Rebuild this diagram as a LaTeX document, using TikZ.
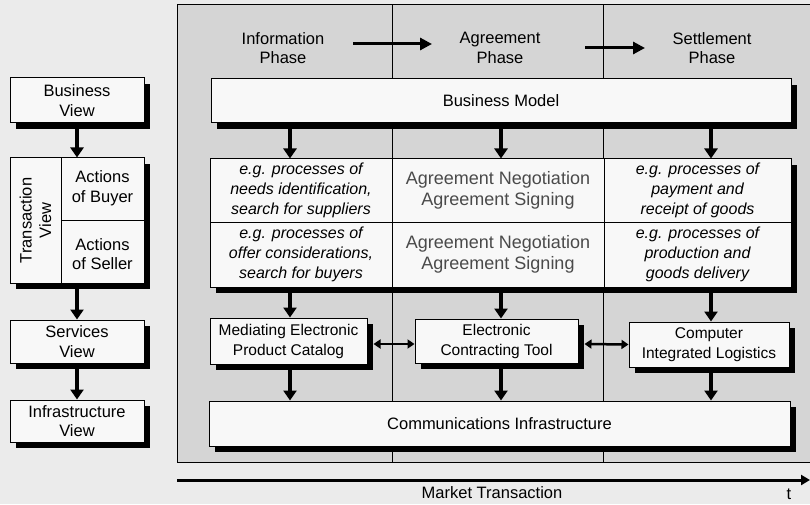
\documentclass[tikz,border=0pt]{standalone}
\usepackage{fontspec}
\setmainfont{Liberation Sans}
\usetikzlibrary{arrows.meta,calc}
\definecolor{pagebg}{HTML}{EBEBEB}
\definecolor{panelbg}{HTML}{D5D5D5}
\definecolor{boxbg}{HTML}{F8F8F8}
\definecolor{softtext}{HTML}{4A4A4A}
\tikzset{
  txt/.style={font=\fontsize{16.5}{19.5}\selectfont, align=center, inner sep=0pt},
  shadowbox/.style={draw=black, line width=1pt, fill=boxbg, inner sep=0pt, align=center,
    font=\fontsize{16.5}{19.5}\selectfont},
  boxshadow/.style={fill=black},
  toolfont/.style={font=\fontsize{15.5}{20}\selectfont},
  cell/.style={draw=black, line width=1pt, fill=boxbg, inner sep=0pt, align=center},
  egtext/.style={font=\fontsize{16}{20}\selectfont\itshape},
  negtext/.style={font=\fontsize{18}{20.5}\selectfont, text=softtext},
  divider/.style={line width=1pt},
  flow/.style={line width=4.5pt, -{Triangle[width=13pt,length=10pt]}},
  hflow/.style={line width=3pt, -{Triangle[width=12pt,length=12pt]}},
  link/.style={line width=2.5pt, {Triangle[width=9pt,length=7pt]}-{Triangle[width=9pt,length=7pt]}},
  timeline/.style={line width=3pt, -{Triangle[width=10pt,length=9pt]}},
}
\begin{document}
\begin{tikzpicture}
\useasboundingbox (0,0) rectangle (810pt,504pt);
\clip (0,0) rectangle (810pt,504pt);
\fill[pagebg] (0,0) rectangle (810pt,504pt);
\begin{scope}[x=1pt,y=-1pt,shift={(0pt,504pt)}]

% ---- grey panel of the three phases (runs on past the right edge) ----
\node[draw=black, line width=1pt, fill=panelbg, inner sep=0pt,
      minimum width=640pt, minimum height=457pt] (panel) at (497,233.5) {};
\coordinate (d1) at (392,0);
\coordinate (d2) at (603,0);
\draw[divider] (panel.north -| d1) -- (panel.south -| d1);
\draw[divider] (panel.north -| d2) -- (panel.south -| d2);

% ---- drop shadows, laid down before the boxes (centre x/y, width, height) ----
\foreach \cx/\cy/\w/\h in {501/101/580/44, 500.5/223/581/128, 288.5/341/157/46,
    496.5/341/163/44, 709/344.5/160/45, 499.5/423.5/581/45, 77/100.5/134/45,
    77/220.5/134/125, 77/341.5/134/43, 77/421/134/42}{
  \fill[boxshadow] (\cx-\w/2+6, \cy-\h/2+6) rectangle (\cx+\w/2+6, \cy+\h/2+6);
}

% column positions of the vertical flows
\coordinate (xL) at (290,0);
\coordinate (xM) at (501,0);
\coordinate (xR) at (711,0);

% ---- phase headings ----
\node[txt] (info)   at (283,48) {Information\\Phase};
\node[txt] (agree)  at (500,48) {Agreement\\Phase};
\node[txt] (settle) at (712,48) {Settlement\\Phase};
\draw[hflow] ($(info)+(70,-4)$) -- ($(agree)+(-68,-4)$);
\draw[hflow] ($(agree)+(85,0)$) -- ($(settle)+(-67,0)$);

% ---- business model ----
\node[shadowbox, minimum width=580pt, minimum height=44pt] (bm) at (501,101) {Business Model};

% ---- process grid ----
\node[shadowbox, minimum width=581pt, minimum height=128pt] (grid) at (500.5,223) {};
\node[cell, egtext, minimum width=182pt, minimum height=63pt] (c11) at (301,190.5)
  {e.g. processes of\\needs identification,\\search for suppliers};
\node[cell, negtext, minimum width=212pt, minimum height=63pt] (c12) at (498,190.5)
  {Agreement Negotiation\\Agreement Signing};
\node[cell, egtext, minimum width=187pt, minimum height=63pt] (c13) at (697.5,190.5)
  {e.g. processes of\\payment and\\receipt of goods};
\node[cell, egtext, minimum width=182pt, minimum height=65pt] (c21) at (301,254.5)
  {e.g. processes of\\offer considerations,\\search for buyers};
\node[cell, negtext, minimum width=212pt, minimum height=65pt] (c22) at (498,254.5)
  {Agreement Negotiation\\Agreement Signing};
\node[cell, egtext, minimum width=187pt, minimum height=65pt] (c23) at (697.5,254.5)
  {e.g. processes of\\production and\\goods delivery};

% ---- electronic services ----
\node[shadowbox, toolfont, minimum width=157pt, minimum height=46pt] (cat) at (288.5,341)
  {Mediating Electronic\\Product Catalog};
\node[shadowbox, toolfont, minimum width=163pt, minimum height=44pt] (ctr) at (496.5,341)
  {Electronic\\Contracting Tool};
\node[shadowbox, toolfont, minimum width=160pt, minimum height=45pt] (log) at (709,344.5)
  {Computer\\Integrated Logistics};

% ---- infrastructure ----
\node[shadowbox, minimum width=581pt, minimum height=45pt] (comm) at (499.5,423.5)
  {Communications Infrastructure};

% ---- views column ----
\node[shadowbox, minimum width=134pt, minimum height=45pt] (bview) at (77,100.5) {Business\\View};
\node[shadowbox, minimum width=134pt, minimum height=125pt] (trans) at (77,220.5) {};
\coordinate (tsplit) at (61,0);
\draw[divider] (trans.north -| tsplit) -- (trans.south -| tsplit);
\draw[divider] (tsplit |- trans.center) -- (trans.east);
\node[txt, rotate=90] (tview) at (35.5,220.5) {Transaction\\View};
\node[txt] (buyer)  at (102.5,188) {Actions\\of Buyer};
\node[txt] (seller) at (102.5,254) {Actions\\of Seller};
\node[shadowbox, minimum width=134pt, minimum height=43pt] (sview) at (77,341.5) {Services\\View};
\node[shadowbox, minimum width=134pt, minimum height=42pt] (iview) at (77,421) {Infrastructure\\View};

% ---- vertical flows ----
\foreach \c in {xL,xM,xR}{
  \draw[flow] (bm.south -| \c) -- (grid.north -| \c);
}
\draw[flow] (grid.south -| xL) -- (cat.north -| xL);
\draw[flow] (grid.south -| xM) -- (ctr.north -| xM);
\draw[flow] (grid.south -| xR) -- (log.north -| xR);
\draw[flow] (cat.south -| xL) -- (comm.north -| xL);
\draw[flow] (ctr.south -| xM) -- (comm.north -| xM);
\draw[flow] (log.south -| xR) -- (comm.north -| xR);
\draw[flow] (bview.south) -- (trans.north);
\draw[flow] (trans.south) -- (sview.north);
\draw[flow] (sview.south) -- (iview.north);

% links between the services
\draw[link] ([xshift=6pt,yshift=-3pt]cat.east) -- ([yshift=-3pt]ctr.west);
\draw[link] ([xshift=6pt,yshift=-3pt]ctr.east) -- (log.west);

% ---- time axis ----
\coordinate (tstart) at (177,480);
\coordinate (tend) at (810,480);
\draw[timeline] (tstart) -- (tend);
\node[txt] (mt) at (492,493) {Market Transaction};
\node[txt] (tlabel) at (789,494) {t};
\end{scope}
\end{tikzpicture}
\end{document}
